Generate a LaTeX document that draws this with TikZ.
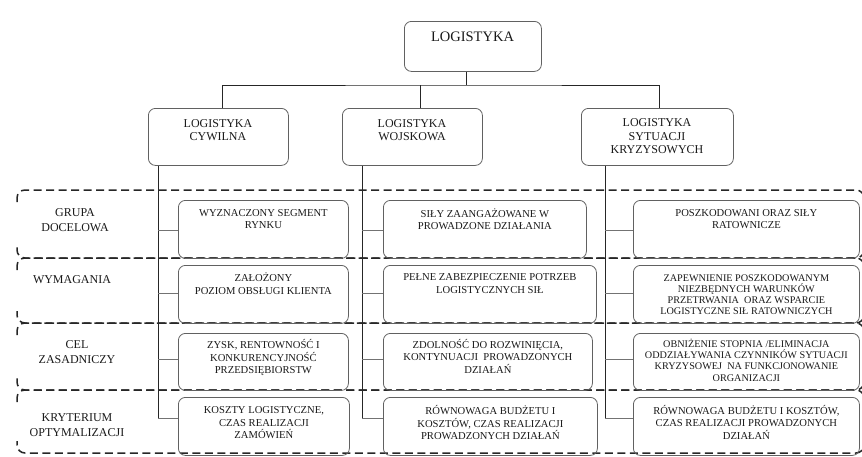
\documentclass[tikz,border=0pt]{standalone}
\usepackage{fontspec}
\setmainfont{Liberation Serif}
\begin{document}
\begin{tikzpicture}[x=1pt,y=-1pt,
  bx/.style={draw=black!62, line width=0.8pt, rounded corners=7pt, inner sep=0pt},
  tx/.style={align=center, inner sep=0pt, text=black!90, font=\fontsize{10.6}{12.5}\selectfont},
  txs/.style={tx, font=\fontsize{10.2}{10.9}\selectfont},
  hd/.style={align=center, inner sep=0pt, text=black!90, font=\fontsize{12}{13.6}\selectfont},
  rl/.style={align=center, inner sep=0pt, text=black!90, font=\fontsize{12}{14.5}\selectfont},
  ln/.style={draw=black!85, line width=0.8pt},
  brn/.style={draw=black!55, line width=0.7pt},
  rowline/.style={draw=black!85, line width=1.5pt, dash pattern=on 8pt off 4.5pt, rounded corners=8pt}]
\useasboundingbox (0,0) rectangle (862,456);
\newcommand\MkBox[5]{\node[bx, anchor=north west, minimum width={#4pt-#2pt}, minimum height={#5pt-#3pt}] (#1) at (#2,#3) {};}

% dashed rows
\draw[rowline] (17,202) -- (17,190) -- (864,190) -- (864,258) -- (17,258) -- (17,246);
\draw[rowline] (17,270) -- (17,258) -- (864,258) -- (864,323) -- (17,323) -- (17,311);
\draw[rowline] (17,335) -- (17,323) -- (864,323) -- (864,390) -- (17,390) -- (17,378);
\draw[rowline] (17,402) -- (17,390) -- (864,390) -- (864,453) -- (17,453) -- (17,441);

% row labels
\node[rl] (lab1) at (75,220) {GRUPA\\DOCELOWA};
\node[rl] (lab2) at (72,280) {WYMAGANIA};
\node[rl] (lab3) at (77,352) {CEL\\ZASADNICZY};
\node[rl] (lab4) at (77,425) {KRYTERIUM\\OPTYMALIZACJI};

% top levels
\MkBox{top}{404}{21}{541}{71}
\node[tx, font=\fontsize{14.5}{16}\selectfont] (toptx) at (472.5,37) {LOGISTYKA};
\MkBox{civ}{148}{108}{288}{165}
\MkBox{mil}{342}{108}{482}{165}
\MkBox{cri}{581}{108}{733}{165}
\node[hd] (civtx) at (218,130) {LOGISTYKA\\CYWILNA};
\node[hd] (miltx) at (412,130) {LOGISTYKA\\WOJSKOWA};
\node[hd] (critx) at (657,136.5) {LOGISTYKA\\SYTUACJI\\KRYZYSOWYCH};

\coordinate (bar) at (466,85);
\draw[ln] (top.south -| bar) -- (bar);
\draw[ln] (civ.north -| 222,0) |- (bar) -| (cri.north -| 659,0);
\draw[ln] (mil.north -| 420,0) -- (420,85);

% lower boxes
\MkBox{c1}{178}{200}{348}{258}
\MkBox{m1}{383}{200}{586}{258}
\MkBox{k1}{633}{200}{859}{258}
\MkBox{c2}{178}{265}{348}{323}
\MkBox{m2}{383}{265}{596}{323}
\MkBox{k2}{633}{265}{859}{323}
\MkBox{c3}{178}{333}{348}{390}
\MkBox{m3}{383}{333}{592}{390}
\MkBox{k3}{633}{333}{859}{390}
\MkBox{c4}{178}{397}{349}{455}
\MkBox{m4}{383}{397}{597}{455}
\MkBox{k4}{633}{397}{859}{455}

\node[tx] (c1t) at (c1.center |- 0,219) {WYZNACZONY SEGMENT\\RYNKU};
\node[tx] (m1t) at (m1.center |- 0,219) {SIŁY ZAANGAŻOWANE W\\PROWADZONE DZIAŁANIA};
\node[tx] (k1t) at (k1.center |- 0,219) {POSZKODOWANI ORAZ SIŁY\\RATOWNICZE};
\node[tx] (c2t) at (c2.center |- 0,283.5) {ZAŁOŻONY\\POZIOM OBSŁUGI KLIENTA};
\node[tx] (m2t) at (m2.center |- 0,283.5) {PEŁNE ZABEZPIECZENIE POTRZEB\\LOGISTYCZNYCH SIŁ};
\node[txs] (k2t) at (k2.center |- 0,294.5) {ZAPEWNIENIE POSZKODOWANYM\\NIEZBĘDNYCH WARUNKÓW\\PRZETRWANIA~ ORAZ WSPARCIE\\LOGISTYCZNE SIŁ RATOWNICZYCH};
\node[tx] (c3t) at (c3.center |- 0,357.5) {ZYSK, RENTOWNOŚĆ I\\KONKURENCYJNOŚĆ\\PRZEDSIĘBIORSTW};
\node[tx] (m3t) at (m3.center |- 0,356) {ZDOLNOŚĆ DO ROZWINIĘCIA,\\KONTYNUACJI~ PROWADZONYCH\\DZIAŁAŃ};
\node[txs, font=\fontsize{10.2}{11.3}\selectfont] (k3t) at (k3.center |- 0,360) {OBNIŻENIE STOPNIA /ELIMINACJA\\ODDZIAŁYWANIA CZYNNIKÓW SYTUACJI\\KRYZYSOWEJ~ NA FUNKCJONOWANIE\\ORGANIZACJI};
\node[tx] (c4t) at (c4.center |- 0,423) {KOSZTY LOGISTYCZNE,\\CZAS REALIZACJI\\ZAMÓWIEŃ};
\node[tx] (m4t) at (m4.center |- 0,423) {RÓWNOWAGA BUDŻETU I\\KOSZTÓW, CZAS REALIZACJI\\PROWADZONYCH DZIAŁAŃ};
\node[tx] (k4t) at (k4.center |- 0,422) {RÓWNOWAGA BUDŻETU I KOSZTÓW,\\CZAS REALIZACJI PROWADZONYCH\\DZIAŁAŃ};

% trunks and branches
\foreach \col/\up/\xx in {c/civ/158, m/mil/362, k/cri/605}{
  \draw[ln] (\up.south -| \xx,0) -- (\xx,418);
  \draw[brn] (\xx,230) -- (\col1.west |- 0,230);
  \draw[brn] (\xx,293) -- (\col2.west |- 0,293);
  \draw[brn] (\xx,359) -- (\col3.west |- 0,359);
  \draw[brn] (\xx,418) -- (\col4.west |- 0,418);
}
\end{tikzpicture}
\end{document}
